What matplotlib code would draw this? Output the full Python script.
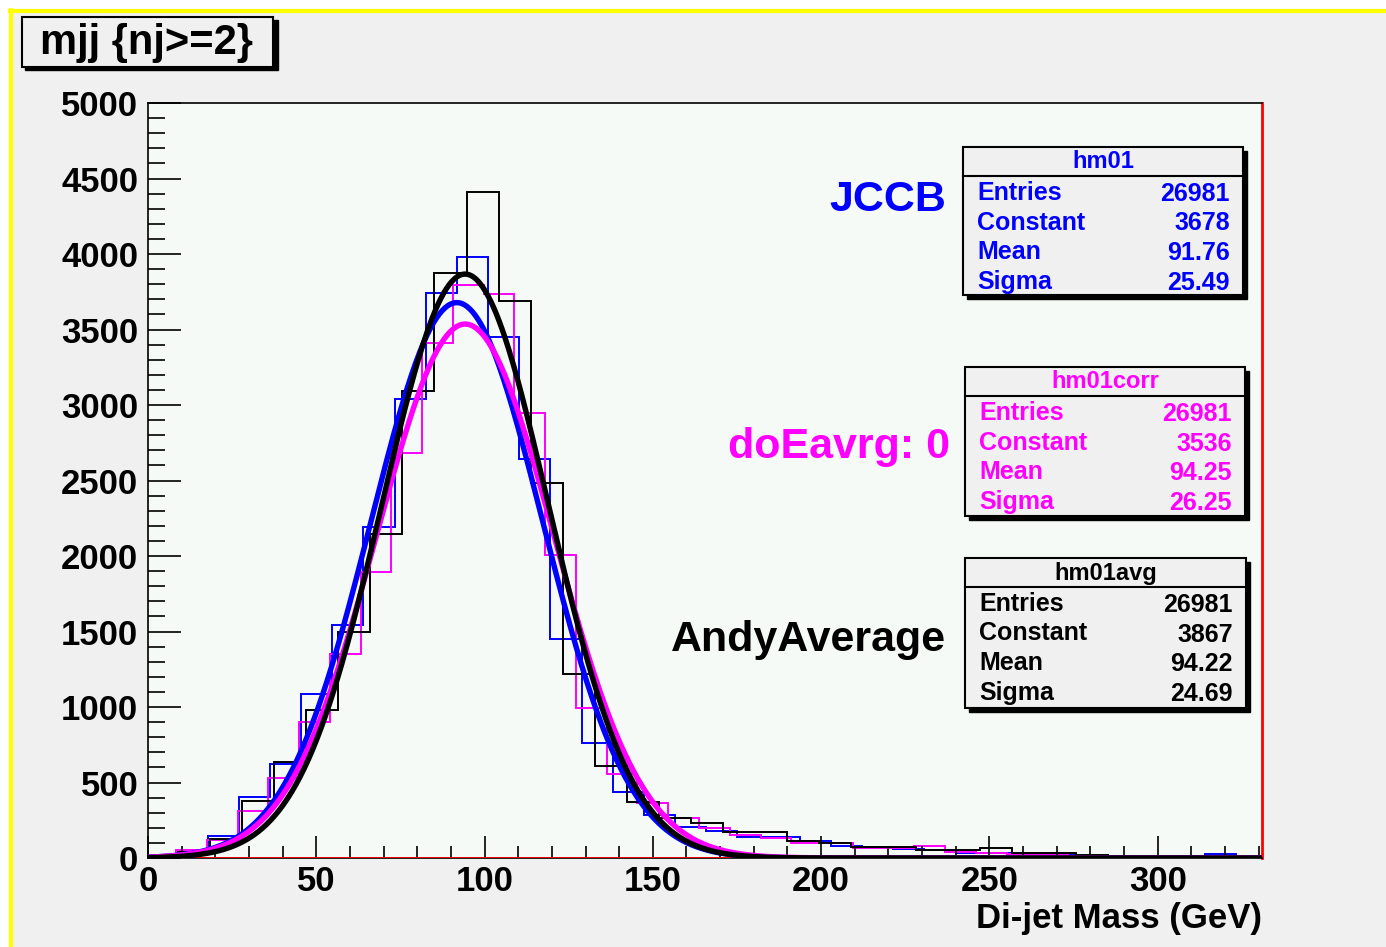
import numpy as np
import matplotlib
matplotlib.use("Agg")
import matplotlib.pyplot as plt
from matplotlib.patches import Rectangle
from matplotlib.ticker import MultipleLocator

plt.rcParams['font.family'] = ['Liberation Sans', 'DejaVu Sans']

# histogram contents
# hm01 (blue)
blue_start, blue_width = -0.8, 9.26
blue_counts = [10, 40, 146, 407, 621, 1089, 1540, 2190, 3041, 3745, 3982, 3450,
               2643, 1452, 761, 436, 286, 208, 179, 141, 137, 110, 80, 70, 60,
               50, 31, 31, 25, 20, 15, 10, 8, 10, 25, 5]
# hm01corr (magenta)
mag_start, mag_width = -0.8, 9.14
mag_counts = [10, 50, 120, 314, 529, 901, 1353, 1895, 2683, 3413, 3798, 3732,
              2948, 2005, 994, 558, 367, 265, 200, 150, 133, 102, 102, 64, 64,
              80, 42, 35, 27, 27, 15, 10, 8, 5, 3, 2]
# hm01avg (black)
blk_start, blk_width = -0.66, 9.53
blk_counts = [10, 40, 124, 378, 633, 980, 1497, 2149, 3094, 3875, 4409, 3690,
              2481, 1220, 606, 370, 264, 235, 175, 170, 115, 102, 75, 75, 53,
              53, 64, 35, 30, 20, 15, 10, 8, 5, 3]

# gaussian fit results (constant, mean, sigma)
fit_blue = (3678, 91.76, 25.49)
fit_mag = (3536, 94.25, 26.25)
fit_blk = (3867, 94.22, 24.69)

stats = {
    'hm01': ('#0000ff', ['26981', '3678', '91.76', '25.49']),
    'hm01corr': ('#ff00ff', ['26981', '3536', '94.25', '26.25']),
    'hm01avg': ('#000000', ['26981', '3867', '94.22', '24.69']),
}
stat_names = ['Entries', 'Constant', 'Mean', 'Sigma']

W, H = 1386, 947
fig = plt.figure(figsize=(W / 100, H / 100), dpi=100, facecolor='white')


def fx(x):
    return x / W


def fy(y):
    return 1 - y / H


# canvas background with yellow border on top / left
fig.patches.append(Rectangle((fx(10), 0), 1 - fx(10), fy(10), transform=fig.transFigure,
                             facecolor='#f0f0f0', edgecolor='none', zorder=-5))
fig.add_artist(plt.Line2D([fx(10), 1], [fy(11), fy(11)], color='#ffff00', lw=3))
fig.add_artist(plt.Line2D([fx(11), fx(11)], [0, fy(10)], color='#ffff00', lw=3))

ax = fig.add_axes([fx(148), fy(858), fx(1262) - fx(148), fy(103) - fy(858)])
ax.set_facecolor('#f6faf7')
ax.set_xlim(0, 331)
ax.set_ylim(0, 5000)


def edges(start, width, n):
    return start + width * np.arange(n + 1)


ax.stairs(blue_counts, edges(blue_start, blue_width, len(blue_counts)), color='#0000ff', lw=1.4)
ax.stairs(mag_counts, edges(mag_start, mag_width, len(mag_counts)), color='#ff00ff', lw=1.4)
ax.stairs(blk_counts, edges(blk_start, blk_width, len(blk_counts)), color='black', lw=1.4)

ax.axhline(0, color='red', lw=2, zorder=3)

xs = np.linspace(0, 331, 800)
for (c, m, s), col in [(fit_blue, '#0000ff'), (fit_mag, '#ff00ff'), (fit_blk, 'black')]:
    ax.plot(xs, c * np.exp(-0.5 * ((xs - m) / s) ** 2), color=col, lw=3.9, zorder=4)

for side in ['left', 'bottom', 'top']:
    ax.spines[side].set_color('black')
    ax.spines[side].set_linewidth(1.2)
ax.spines['right'].set_color('red')
ax.spines['right'].set_linewidth(2)

ax.xaxis.set_major_locator(MultipleLocator(50))
ax.xaxis.set_minor_locator(MultipleLocator(10))
ax.yaxis.set_major_locator(MultipleLocator(500))
ax.yaxis.set_minor_locator(MultipleLocator(100))
ax.tick_params(axis='x', which='major', direction='in', length=16, width=1.2, pad=5,
               labelsize=25, top=False)
ax.tick_params(axis='x', which='minor', direction='in', length=8.5, width=1.2, top=False)
ax.tick_params(axis='y', which='major', direction='in', length=24, width=1.2, pad=7,
               labelsize=25, right=False)
ax.tick_params(axis='y', which='minor', direction='in', length=12, width=1.2, right=False)
for lab in ax.get_xticklabels() + ax.get_yticklabels():
    lab.set_fontweight('bold')

fig.text(fx(1262), fy(918), 'Di-jet Mass (GeV)', ha='right', va='center',
         fontsize=25, fontweight='bold')

# title box
fig.patches.append(Rectangle((fx(25), fy(70)), fx(253), fy(0) - fy(50), transform=fig.transFigure,
                             facecolor='black', edgecolor='black', zorder=5))
fig.patches.append(Rectangle((fx(22), fy(67)), fx(251), fy(0) - fy(50), transform=fig.transFigure,
                             facecolor='#f0f0f0', edgecolor='black', lw=1.5, zorder=6))
fig.text(fx(147), fy(43), 'mjj {nj>=2}', ha='center', va='center', fontsize=30,
         fontweight='bold', zorder=7)

# labels beside the stat boxes
fig.text(fx(946), fy(200), 'JCCB', ha='right', va='center', fontsize=31,
         fontweight='bold', color='#0000ff', zorder=7)
fig.text(fx(950), fy(447), 'doEavrg: 0', ha='right', va='center', fontsize=31,
         fontweight='bold', color='#ff00ff', zorder=7)
fig.text(fx(946), fy(640), 'AndyAverage', ha='right', va='center', fontsize=31,
         fontweight='bold', color='black', zorder=7)


def stat_box(name, x0, y0, x1, y1):
    col, vals = stats[name]
    w = fx(x1) - fx(x0)
    h = fy(y0) - fy(y1)
    fig.patches.append(Rectangle((fx(x0 + 4), fy(y1 + 4)), w, h, transform=fig.transFigure,
                                 facecolor='black', edgecolor='black', zorder=5))
    fig.patches.append(Rectangle((fx(x0), fy(y1)), w, h, transform=fig.transFigure,
                                 facecolor='#f0f0f0', edgecolor='black', lw=1.5, zorder=6))
    fig.add_artist(plt.Line2D([fx(x0), fx(x1)], [fy(y0 + 29), fy(y0 + 29)],
                              color='black', lw=1.5, zorder=7))
    fig.text((fx(x0) + fx(x1)) / 2, fy(y0 + 15), name, ha='center', va='center',
             fontsize=17, fontweight='bold', color=col, zorder=8)
    for i, (lab, v) in enumerate(zip(stat_names, vals)):
        yy = y0 + 46 + 29.5 * i
        fig.text(fx(x0 + 14), fy(yy), lab, ha='left', va='center', fontsize=18,
                 fontweight='bold', color=col, zorder=8)
        fig.text(fx(x1 - 13), fy(yy + 1), v, ha='right', va='center', fontsize=18,
                 fontweight='bold', color=col, zorder=8)


stat_box('hm01', 963, 147, 1243, 295)
stat_box('hm01corr', 965, 367, 1245, 516)
stat_box('hm01avg', 965, 558, 1246, 708)

fig.savefig('out.png', dpi=100, facecolor=fig.get_facecolor())
